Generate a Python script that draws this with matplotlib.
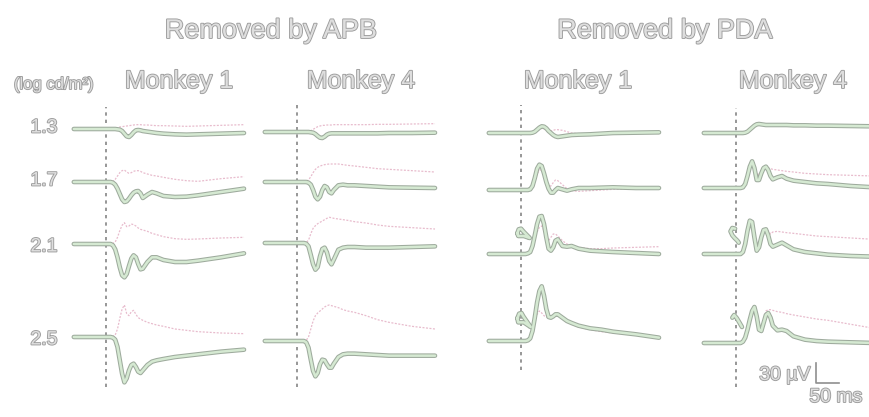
import matplotlib
matplotlib.use("Agg")
import matplotlib.pyplot as plt
import matplotlib.patheffects as pe

# ---------------- data (time in ms, amplitude in microvolts) ----------------
T_MS = [-70, -20, 0, 10, 15, 20, 25, 30, 35, 40, 45, 50, 55, 60, 65, 70, 75,
        80, 90, 100, 110, 125, 150, 175, 200, 250, 300]

INTENSITY_LABELS = ["1.3", "1.7", "2.1", "2.5"]
GROUP_TITLES = ["Removed by APB", "Removed by PDA"]
MONKEY_LABELS = ["Monkey 1", "Monkey 4", "Monkey 1", "Monkey 4"]

# thick (green) traces, one list per intensity (1.3, 1.7, 2.1, 2.5)
APB_M1_SOLID = [
    [0, 0, 0, 0, 0, 0, -0.5, -1, -3, -7, -11, -12, -9, -5, -2, -1.5, -2, -3, -4, -5, -6, -7, -8, -8.5, -8, -7, -6],
    [0, 0, 0, 0, -1, -4, -10, -18, -26, -30, -29, -25, -20, -16, -14, -13.5, -17, -24, -19, -15, -17, -21, -22.5, -22, -20, -15, -10],
    [0, 0, 0, 0, -2, -8, -20, -35, -47, -50, -45, -33, -22, -17, -20, -30, -38, -37, -27, -20, -20, -24, -27, -27, -25, -20, -14],
    [0, 0, 0, 0, -1, -4, -15, -35, -55, -68, -62, -50, -42, -40, -45, -52, -54, -50, -42, -37, -35, -33, -30, -28, -26, -22, -19],
]
APB_M1_DOTTED = [
    [0, 0, 0, 0, 0.5, 1, 2, 3, 3.5, 4, 4.5, 5, 5.5, 6, 6.5, 6.5, 6.5, 6, 6, 5.5, 5, 5, 4.5, 4, 4.5, 5.5, 6.5],
    [0, 0, 0, 0, 1, 4, 9, 14, 17, 18, 15, 13, 14, 16, 17, 17, 16, 14, 12, 10, 9, 7, 4, 2, 1, 5, 8],
    [0, 0, 0, 0, 1, 3, 10, 20, 28, 32, 26, 27, 30, 29, 27, 24, 22, 21, 19, 16, 14, 11, 8, 7, 7.5, 9, 10],
    [0, 0, 0, 0, 1, 3, 12, 28, 42, 48, 35, 32, 38, 40, 34, 29, 27, 25, 22, 20, 18, 16, 12, 10, 8, 6, 5],
]
APB_M4_SOLID = [
    [0, 0, 0, 0, 0, 0, 0, -0.5, -1, -3, -6, -8.5, -9, -7, -4, -2.5, -2, -2, -2, -2, -2, -2, -2, -2, -1.5, -1.5, -1],
    [0, 0, 0, 0, 0, 0, -1, -4, -12, -22, -26, -22, -12, -6, -8, -15, -17, -12, -5, -4, -5, -5, -6, -7, -8, -8.5, -9],
    [0, 0, 0, 0, 0, -1, -5, -18, -32, -40, -36, -20, -9, -7, -14, -27, -32, -25, -10, -7, -6, -6, -7, -7, -7, -6, -5],
    [0, 0, 0, 0, 0, -2, -10, -28, -45, -53, -48, -35, -28, -29, -35, -40, -40, -34, -24, -20, -19, -19, -20, -21, -22, -22, -22],
]
APB_M4_DOTTED = [
    [0, 0, 0, 0, 0, 0, 1, 2, 4, 6, 8, 9, 10, 10, 10.5, 10.5, 10.5, 11, 11, 11, 11, 11, 11, 11.5, 11.5, 12, 12.5],
    [0, 0, 0, 0, 0, 1, 3, 8, 14, 19, 22, 24, 25, 26, 26.5, 27, 27, 27, 27, 26, 25, 24, 22, 20, 19, 17, 15],
    [0, 0, 0, 0, 0, 1, 4, 14, 22, 26, 29, 31, 33, 35, 37, 38.5, 38, 37, 36, 35, 34, 32, 30, 27, 25, 23, 21],
    [0, 0, 0, 0, 0, 1, 6, 18, 30, 38, 42, 45, 48, 51, 53, 54, 53, 52, 50, 47, 45, 43, 38, 32, 28, 22, 18],
]
PDA_M1_SOLID = [
    [0, 0, 0, 0, 0, 0, 0.5, 2, 5, 8, 10, 9.5, 7, 3, 0, -3, -5, -6, -5, -4, -3, -2.5, -2, -1, 0, 0.5, 1],
    [0, 0, 0, 0, 0, 1, 6, 18, 32, 38, 36, 25, 12, 2, -4, -4, 0, 3, 1, -1, 1, 3, 3, 3.5, 4, 3, 3],
    [0, 0, 0, 0, 1, 3, 12, 28, 45, 56, 57, 45, 25, 8, 5, 10, 20, 22, 12, 11, 12, 8, 5, 4, 3, 1.5, 0],
    [0, 0, 0, 0, 1, 4, 15, 35, 58, 75, 82, 68, 48, 36, 35, 37, 40, 40, 35, 30, 27, 23, 19, 17, 14, 10, 5],
]
PDA_M1_DOTTED = [
    [0, 0, 0, 0, 0, 0, 0.5, 2, 4, 6, 7, 6, 4, 3, 3, 4, 5, 5, 4, 2, 0, -1, -1.5, -1, 0, 0.5, 1],
    [0, 0, 0, 0, 0, 1, 5, 14, 24, 30, 30, 22, 12, 6, 6, 11, 15, 14, 8, 2, -1, -2, -1, 0, 1, 2, 2],
    [0, 0, 0, 0, 1, 3, 10, 22, 33, 40, 42, 35, 25, 20, 25, 30, 30, 27, 20, 15, 12, 10, 8, 8, 9, 10, 11],
    [0, 0, 0, 0, 1, 4, 13, 28, 40, 45, 42, 38, 36, 35, 36, 38, 39, 38, 33, 28, 25, 21, 17, 14, 12, 9, 6],
]
PDA_M4_SOLID = [
    [0, 0, 0, 0, 0, 0.5, 2, 5, 8, 11, 13, 13.5, 13, 12.5, 12, 12, 12, 12, 12, 12, 12, 11.5, 11.5, 11, 11, 10.5, 10],
    [0, 0, 0, 0, 1, 6, 18, 32, 40, 30, 12, 12, 22, 30, 32, 27, 18, 13, 16, 18, 14, 11, 9, 7, 6, 3, 1],
    [0, 0, 0, 0, 3, 15, 35, 50, 48, 25, 5, 10, 25, 36, 37, 28, 15, 11, 14, 17, 13, 7, 3, 1, -1, -3, -4],
    [0, 0, 0, 0, 2, 8, 20, 35, 48, 54, 40, 20, 18, 30, 42, 45, 38, 26, 19, 20, 18, 10, 5, 3, 2, 1, 0],
]
PDA_M4_DOTTED = [
    [0, 0, 0, 0, 0, 0.5, 2, 5, 8, 11, 13, 13.5, 13, 12.5, 12, 12, 12, 12, 12, 12, 12, 11.5, 11.5, 11, 11, 10.5, 10],
    [0, 0, 0, 0, 1, 6, 18, 32, 40, 32, 22, 20, 24, 29, 31, 30, 29, 28, 27, 26, 25, 24, 22, 21, 20, 19, 18],
    [0, 0, 0, 0, 3, 15, 35, 50, 48, 25, 5, 10, 25, 36, 37, 35, 30, 33, 34, 33, 32, 31, 29, 27, 26, 24, 22],
    [0, 0, 0, 0, 2, 8, 20, 35, 48, 54, 40, 20, 18, 30, 48, 50, 50, 49, 47, 46, 44, 42, 39, 36, 34, 28, 22],
]

# small detached stimulus artefacts seen near onset in the PDA traces
PDA_M1_ART_21_T = [-8, -5, 0, 5, 19, 6, 0, -6, -8]
PDA_M1_ART_21_V = [31, 37, 38, 34, 24, 27, 27, 27, 31]
PDA_M1_ART_25_T = [-8, -4, 1, 5, 21, 6, 0, -6, -8]
PDA_M1_ART_25_V = [34, 41, 42, 37, 21, 28, 28, 28, 34]
PDA_M4_ART_21_T = [-2, -8, -12, -8, -3, 3, 6]
PDA_M4_ART_21_V = [38, 39, 34, 28, 24, 20, 17]
PDA_M4_ART_25_T = [-8, -4, 2, 8, 13]
PDA_M4_ART_25_V = [38, 42, 37, 30, 24]

SCALE_UV = 30
SCALE_MS = 50

# ---------------- layout (pixels) ----------------
W, H = 870, 417
MS_PER_PX = 50 / 23
UV_PER_PX = 30 / 20

fig = plt.figure(figsize=(W / 100, H / 100), dpi=100)
fig.patch.set_facecolor("white")

PANELS = [
    dict(onset=106, bases=[129, 182, 244, 337], solid=APB_M1_SOLID, dotted=APB_M1_DOTTED,
         dash=(107, 387), arts={}),
    dict(onset=297, bases=[132, 182, 243, 341], solid=APB_M4_SOLID, dotted=APB_M4_DOTTED,
         dash=(105, 387), arts={}),
    dict(onset=521, bases=[133, 190, 254, 341], solid=PDA_M1_SOLID, dotted=PDA_M1_DOTTED,
         dash=(105, 370), arts={2: (PDA_M1_ART_21_T, PDA_M1_ART_21_V),
                                3: (PDA_M1_ART_25_T, PDA_M1_ART_25_V)}),
    dict(onset=736, bases=[133, 188, 254, 343], solid=PDA_M4_SOLID, dotted=PDA_M4_DOTTED,
         dash=(108, 387), arts={2: (PDA_M4_ART_21_T, PDA_M4_ART_21_V),
                                3: (PDA_M4_ART_25_T, PDA_M4_ART_25_V)}),
]

T_LIM = (-90, 330)
V_LIM = (-100, 100)

GREEN_EDGE = "#9eab9d"
GREEN_FILL = "#d5e9d2"
PINK = "#e8bccd"


def trace_axes(onset_px, base_py):
    left = onset_px + T_LIM[0] / MS_PER_PX
    width = (T_LIM[1] - T_LIM[0]) / MS_PER_PX
    bottom = (H - base_py) + V_LIM[0] / UV_PER_PX
    height = (V_LIM[1] - V_LIM[0]) / UV_PER_PX
    ax = fig.add_axes([left / W, bottom / H, width / W, height / H])
    ax.set_xlim(*T_LIM)
    ax.set_ylim(*V_LIM)
    ax.axis("off")
    ax.patch.set_alpha(0)
    return ax


def green(ax, t, v):
    ax.plot(t, v, color=GREEN_EDGE, lw=3.3, solid_capstyle="round",
            solid_joinstyle="round", clip_on=False, zorder=3)
    ax.plot(t, v, color=GREEN_FILL, lw=1.8, solid_capstyle="round",
            solid_joinstyle="round", clip_on=False, zorder=4)


for p in PANELS:
    # dashed stimulus-onset line
    top, bot = p["dash"]
    left = p["onset"] + T_LIM[0] / MS_PER_PX
    width = (T_LIM[1] - T_LIM[0]) / MS_PER_PX
    axd = fig.add_axes([left / W, (H - bot) / H, width / W, (bot - top) / H])
    axd.set_xlim(*T_LIM)
    axd.axis("off")
    axd.patch.set_alpha(0)
    axd.axvline(0, color="#858585", lw=1.2, dashes=(2.0, 2.4), zorder=1)

    for r, base in enumerate(p["bases"]):
        ax = trace_axes(p["onset"], base)
        ax.plot(T_MS, p["dotted"][r], color=PINK, lw=0.9, ls=(0, (1.6, 1.2)),
                clip_on=False, zorder=2)
        green(ax, T_MS, p["solid"][r])
        if r in p["arts"]:
            at, av = p["arts"][r]
            green(ax, at, av)

# scale bar (30 uV, 50 ms)
SB_X, SB_Y = 816, 383
axs = fig.add_axes([SB_X / W, (H - SB_Y) / H, (SCALE_MS / MS_PER_PX) / W,
                    (SCALE_UV / UV_PER_PX) / H])
axs.set_xlim(0, SCALE_MS)
axs.set_ylim(0, SCALE_UV)
axs.axis("off")
axs.patch.set_alpha(0)
axs.plot([0, 0, SCALE_MS], [SCALE_UV, 0, 0], color="#8f8f8f", lw=1.2, clip_on=False)

# ---------------- text ----------------
FONT = ["Liberation Sans", "DejaVu Sans"]


def label(x, y, s, size, va="baseline", ha="center"):
    fig.text(x / W, 1 - y / H, s, fontsize=size, ha=ha, va=va, family=FONT,
             color="#dedede",
             path_effects=[pe.Stroke(linewidth=1.3, foreground="#9c9c9c"), pe.Normal()])


label(271, 38, GROUP_TITLES[0], 19.5)
label(665, 38, GROUP_TITLES[1], 19.5)
for x, s in zip([179, 361, 578, 793], MONKEY_LABELS):
    label(x, 88, s, 18)
label(54, 89, "(log cd/m²)", 12)
for y, s in zip([128, 181, 247, 340], INTENSITY_LABELS):
    label(44, y, s, 14, va="center")
label(785, 380, "30 µV", 14)
label(836, 402, "50 ms", 14)

fig.savefig("out.png", dpi=100, facecolor="white")
